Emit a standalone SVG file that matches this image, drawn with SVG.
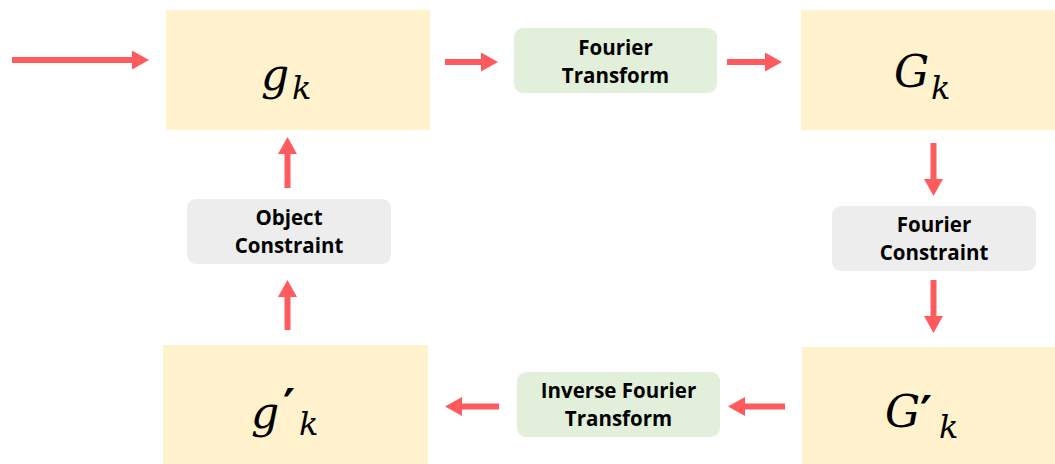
<svg xmlns="http://www.w3.org/2000/svg" width="1055" height="464" viewBox="0 0 1055 464">
  <style>
    .state { fill: #FFF2CC; }
    .op-green { fill: #E2EFDA; }
    .op-grey { fill: #EDEDED; }
    .label { font-family: "Open Sans", "Noto Sans", "Liberation Sans", sans-serif; font-weight: bold; font-size: 20.5px; fill: #000; text-anchor: middle; }
    .math { font-family: "DejaVu Serif", "Liberation Serif", serif; font-style: italic; fill: #000; }
    .main { font-size: 44px; }
    .sub { font-size: 32px; }
    .prime { font-family: "DejaVu Sans", sans-serif; font-weight: bold; font-size: 46px; fill: #000; }
    .arrow { stroke: #FF5B5F; stroke-width: 6; fill: none; marker-end: url(#head); }
  </style>
  <defs>
    <marker id="head" markerUnits="userSpaceOnUse" markerWidth="18" markerHeight="20" refX="0" refY="9.5" orient="auto">
      <path d="M0,0 L17,9.5 L0,19 Z" fill="#FF5B5F"/>
    </marker>
  </defs>

  <rect width="1055" height="464" fill="#FFFFFF"/>

  <!-- state g_k -->
  <g id="node-g">
    <rect class="state" x="166" y="10" width="264" height="120"/>
    <text class="math main" x="261" y="90">g</text>
    <text class="math sub" x="292" y="99">k</text>
  </g>

  <!-- state G_k -->
  <g id="node-G">
    <rect class="state" x="801" y="10" width="254" height="120"/>
    <text class="math main" x="894" y="87">G</text>
    <text class="math sub" x="931" y="99">k</text>
  </g>

  <!-- state g'_k -->
  <g id="node-g-prime">
    <rect class="state" x="163" y="345" width="265" height="119"/>
    <text class="math main" x="251" y="428">g</text>
    <text class="prime" x="283" y="422">′</text>
    <text class="math sub" x="299" y="435">k</text>
  </g>

  <!-- state G'_k -->
  <g id="node-G-prime">
    <rect class="state" x="802" y="347" width="253" height="117"/>
    <text class="math main" x="885" y="427">G</text>
    <text class="prime" x="920" y="429">′</text>
    <text class="math sub" x="939" y="438">k</text>
  </g>

  <!-- operations: two-line labels -->
  <g id="op-fourier-transform">
    <rect class="op-green" x="514" y="28" width="203" height="65" rx="9"/>
    <text class="label" x="615.5" y="55">Fourier</text>
    <text class="label" x="615.5" y="83">Transform</text>
  </g>

  <g id="op-fourier-constraint">
    <rect class="op-grey" x="832" y="206" width="204" height="65" rx="9"/>
    <text class="label" x="934" y="232">Fourier</text>
    <text class="label" x="934" y="260">Constraint</text>
  </g>

  <g id="op-inverse-fourier-transform">
    <rect class="op-green" x="517" y="372" width="203" height="65" rx="9"/>
    <text class="label" x="618.5" y="398">Inverse Fourier</text>
    <text class="label" x="618.5" y="426">Transform</text>
  </g>

  <g id="op-object-constraint">
    <rect class="op-grey" x="187" y="199" width="204" height="65" rx="9"/>
    <text class="label" x="289" y="225">Object</text>
    <text class="label" x="289" y="253">Constraint</text>
  </g>

  <!-- connectors -->
  <g id="connectors">
    <line class="arrow" x1="12" y1="60" x2="132" y2="60"/>
    <line class="arrow" x1="445" y1="62" x2="481" y2="62"/>
    <line class="arrow" x1="727" y1="62" x2="765" y2="62"/>
    <line class="arrow" x1="933.5" y1="143" x2="933.5" y2="179"/>
    <line class="arrow" x1="933.5" y1="280" x2="933.5" y2="316"/>
    <line class="arrow" x1="785" y1="406.5" x2="745" y2="406.5"/>
    <line class="arrow" x1="499" y1="406.5" x2="462" y2="406.5"/>
    <line class="arrow" x1="287.5" y1="330" x2="287.5" y2="297"/>
    <line class="arrow" x1="287.5" y1="188" x2="287.5" y2="154"/>
  </g>
</svg>
